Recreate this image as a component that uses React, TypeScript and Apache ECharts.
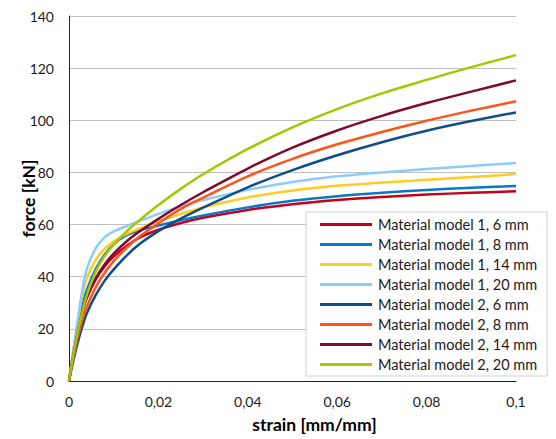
import React, { useEffect, useRef } from "react";
import * as echarts from "echarts";

const strain = [0, 0.001, 0.002, 0.003, 0.004, 0.006, 0.008, 0.01, 0.013, 0.016, 0.02, 0.025, 0.03, 0.04, 0.05, 0.06, 0.07, 0.08, 0.09, 0.1];

const seriesNames = [
  "Material model 1, 6 mm",
  "Material model 1, 8 mm",
  "Material model 1, 14 mm",
  "Material model 1, 20 mm",
  "Material model 2, 6 mm",
  "Material model 2, 8 mm",
  "Material model 2, 14 mm",
  "Material model 2, 20 mm",
];

const seriesColors = ["#C8001E", "#0A78C8", "#FFCC22", "#8CCBFA", "#0E4C8A", "#FF5418", "#7E0A2C", "#A8C500"];

const mm1_6 = [0, 11, 20, 27, 32, 39, 44, 47.8, 52, 55.2, 58, 60.6, 62.6, 65.6, 67.8, 69.4, 70.6, 71.5, 72.2, 72.8];
const mm1_8 = [0, 11, 21, 29, 35, 43, 48.5, 52.5, 56, 57.8, 59.6, 61.7, 63.5, 66.6, 69.1, 70.9, 72.2, 73.3, 74.1, 74.8];
const mm1_14 = [0, 12, 23, 33, 39.5, 46.5, 50.8, 53.5, 56.5, 58.6, 61.2, 64, 66.6, 70.4, 73.1, 74.9, 76.1, 77.2, 78.2, 79.4];
const mm1_20 = [0, 12, 24, 35, 43, 51, 55.2, 57.4, 59.5, 61.5, 64.1, 67, 69.4, 73.3, 76.3, 78.5, 80, 81.3, 82.5, 83.6];
const mm2_6 = [0, 8, 15, 21, 26, 33, 38.5, 42.8, 48.3, 52.8, 57.5, 62.3, 66.5, 74.3, 80.9, 86.6, 91.6, 96, 99.7, 103];
const mm2_8 = [0, 9, 17, 23.5, 28.5, 36, 41.5, 46, 51.3, 55.7, 60.5, 66, 70.3, 78.5, 85.2, 90.8, 95.5, 99.8, 103.7, 107.3];
const mm2_14 = [0, 10, 19, 26.5, 32, 39.5, 44.8, 48.9, 53.7, 57.6, 62.2, 67.5, 72.4, 81.5, 89.5, 96.1, 101.7, 106.6, 111, 115.3];
const mm2_20 = [0, 10, 19, 26.5, 33, 42, 48, 52.3, 57.6, 62, 67.5, 73.7, 79.3, 89, 97.3, 104.3, 110.3, 115.5, 120.4, 125];

const seriesValues = [mm1_6, mm1_8, mm1_14, mm1_20, mm2_6, mm2_8, mm2_14, mm2_20];

const FONT = "Lato";
const LINE_ICON = "path://M0,0 L52,0 L52,3 L0,3 Z";

export default function App() {
  const ref = useRef<HTMLDivElement>(null);
  useEffect(() => {
    if (!ref.current) return;
    const chart = echarts.init(ref.current, null, { renderer: "svg" });
    chart.setOption({
      animation: false,
      backgroundColor: "#ffffff",
      textStyle: { fontFamily: FONT },
      grid: { left: 69, right: 40, top: 16, bottom: 58, containLabel: false, outerBoundsMode: "none" },
      legend: {
        orient: "vertical",
        left: 306,
        top: 212,
        padding: [5, 10, 4, 14],
        itemWidth: 52,
        itemHeight: 14,
        itemGap: 5,
        backgroundColor: "#ffffff",
        borderColor: "#D0D0D0",
        borderWidth: 1,
        textStyle: { fontFamily: FONT, fontSize: 14.5, color: "#1a1a1a", padding: [0, 0, 0, 1] },
        data: seriesNames.map((name) => ({ name, icon: LINE_ICON })),
      },
      xAxis: {
        type: "value",
        min: 0,
        max: 0.1,
        interval: 0.02,
        name: "strain [mm/mm]",
        nameLocation: "middle",
        nameGap: 34,
        nameMoveOverlap: false,
        nameTextStyle: { fontFamily: FONT, fontSize: 17.5, fontWeight: "bold", color: "#000", padding: [0, 0, 0, 44] },
        axisLine: { show: true, lineStyle: { color: "#222", width: 1 } },
        axisTick: { show: false },
        splitLine: { show: false },
        axisLabel: {
          margin: 13,
          fontFamily: FONT,
          fontSize: 14,
          color: "#1a1a1a",
          formatter: (v: number) => String(Number(v.toFixed(2))).replace(".", ","),
        },
      },
      yAxis: {
        type: "value",
        min: 0,
        max: 140,
        interval: 20,
        name: "force [kN]",
        nameLocation: "middle",
        nameGap: 32,
        nameMoveOverlap: false,
        nameTextStyle: { fontFamily: FONT, fontSize: 17.5, fontWeight: "bold", color: "#000" },
        axisLine: { show: true, lineStyle: { color: "#222", width: 1 } },
        axisTick: { show: false },
        splitLine: { show: true, lineStyle: { color: "#BFBFBF", width: 1 } },
        axisLabel: { margin: 15, fontFamily: FONT, fontSize: 14, color: "#1a1a1a" },
      },
      series: seriesNames.map((name, i) => ({
        name,
        type: "line",
        symbol: "none",
        smooth: 0.35,
        color: seriesColors[i],
        lineStyle: { width: 2.5, color: seriesColors[i] },
        data: strain.map((s, j) => [s, seriesValues[i][j]]),
      })),
    });
    return () => chart.dispose();
  }, []);
  return <div ref={ref} style={{ position: "absolute", left: 0, top: 0, width: 556, height: 439 }} />;
}
